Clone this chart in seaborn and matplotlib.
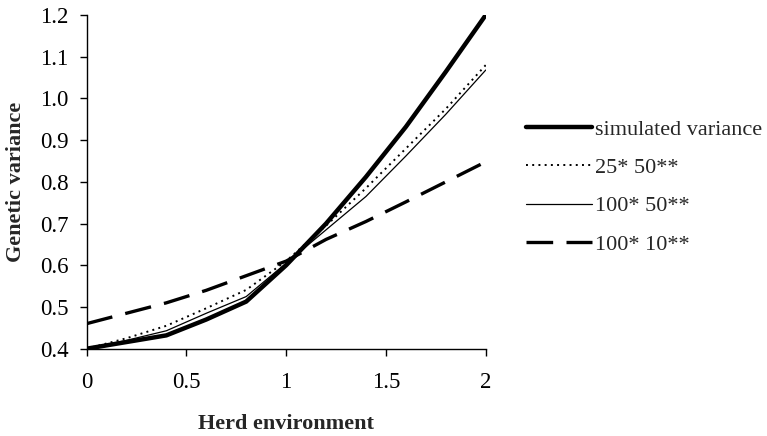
import matplotlib
matplotlib.use("Agg")
import matplotlib.pyplot as plt
import seaborn as sns
import pandas as pd

herd_env = [0.0, 0.2, 0.4, 0.6, 0.8, 1.0, 1.2, 1.4, 1.6, 1.8, 2.0]
simulated = [0.400, 0.416, 0.432, 0.470, 0.513, 0.600, 0.700, 0.812, 0.932, 1.064, 1.200]
s25_50 = [0.400, 0.425, 0.455, 0.497, 0.541, 0.610, 0.695, 0.785, 0.880, 0.975, 1.080]
s100_50 = [0.400, 0.420, 0.443, 0.485, 0.525, 0.605, 0.685, 0.765, 0.862, 0.962, 1.068]
s100_10 = [0.460, 0.485, 0.510, 0.540, 0.575, 0.610, 0.662, 0.705, 0.752, 0.800, 0.848]

series_names = ["simulated variance", "25* 50**", "100* 50**", "100* 10**"]
series_values = [simulated, s25_50, s100_50, s100_10]

x_ticks = [0, 0.5, 1, 1.5, 2]
x_ticklabels = ["0", "0.5", "1", "1.5", "2"]
y_ticks = [0.4, 0.5, 0.6, 0.7, 0.8, 0.9, 1.0, 1.1, 1.2]
y_ticklabels = ["0.4", "0.5", "0.6", "0.7", "0.8", "0.9", "1.0", "1.1", "1.2"]

sns.set_style("ticks")
plt.rcParams['font.family'] = ['Liberation Serif', 'DejaVu Serif']
plt.rcParams['font.size'] = 16

fig = plt.figure(figsize=(7.67, 4.36), dpi=100)
ax = fig.add_axes([0.1128, 0.2002, 0.5205, 0.7654])

styles = {
    "simulated variance": dict(lw=3.2, ls="-"),
    "25* 50**": dict(lw=1.4, ls=(0, (1, 2.2))),
    "100* 50**": dict(lw=0.9, ls="-"),
    "100* 10**": dict(lw=2.4, ls=(0, (8, 4))),
}

for name, vals in zip(series_names, series_values):
    df = pd.DataFrame({"x": herd_env, "y": vals})
    st = styles[name]
    sns.lineplot(data=df, x="x", y="y", ax=ax, color="black",
                 linewidth=st["lw"], linestyle=st["ls"], label=name)

ax.set_xlim(0, 2)
ax.set_ylim(0.4, 1.2)
ax.set_xticks(x_ticks)
ax.set_xticklabels(x_ticklabels)
ax.set_yticks(y_ticks)
ax.set_yticklabels(y_ticklabels)
ax.tick_params(axis="both", direction="out", length=5, width=1, colors="black",
               labelsize=16.5, pad=8)
ax.tick_params(axis="x", pad=12)
for sp in ["top", "right"]:
    ax.spines[sp].set_visible(False)
for sp in ["left", "bottom"]:
    ax.spines[sp].set_linewidth(1)
    ax.spines[sp].set_color("black")

ax.set_xlabel("Herd environment", fontsize=16, fontweight="bold", labelpad=15)
ax.set_ylabel("Genetic variance", fontsize=16, fontweight="bold", labelpad=10)

leg = ax.legend(loc="center left", bbox_to_anchor=(1.05, 0.485), frameon=False,
                fontsize=16, handlelength=3.0, handletextpad=0.1, labelspacing=0.8)

fig.savefig("out.png", dpi=100)
